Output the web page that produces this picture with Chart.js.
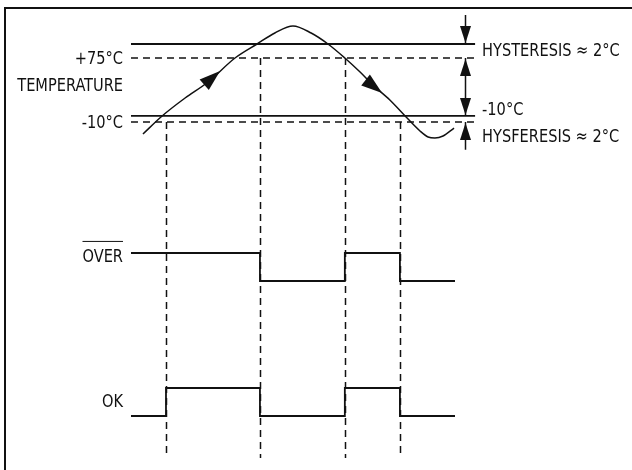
<!DOCTYPE html>
<html>
<head>
<meta charset="utf-8">
<script src="https://cdn.jsdelivr.net/npm/chart.js@4"></script>
<style>
  html, body { margin: 0; padding: 0; background: #fff; }
  canvas { display: block; }
</style>
</head>
<body>
<canvas id="timing" width="632" height="470"></canvas>
<script>
// temperature curve (time units, deg C)
const curveTime = [3.7, 9.6, 16.7, 23.8, 32.1, 38.9, 44.4, 50.0, 55.6, 60.8, 66.0, 70.7, 74.7, 79.9, 84.6, 89.2, 91.7, 93.8, 96.3, 99.7];
const curveTemp = [-25.9, -2.0, 21.9, 43.1, 75.0, 93.6, 108.2, 117.5, 108.2, 93.6, 75.0, 56.4, 39.1, 19.2, -2.0, -22.0, -29.9, -31.2, -28.6, -18.0];

// threshold lines
const tripHigh = 93.6;
const setHigh = 75;
const tripLow = -2.0;
const setLow = -10;
const lineStart = 0;
const lineEnd = 106.2;

// logic outputs
const edgeTime = [0, 10.8, 39.8, 66.0, 83.0, 100];
const overLevel = [1, 1, 0, 1, 0, 0];
const okLevel = [0, 1, 0, 1, 0, 0];

// dashed guides: time and the threshold they drop from
const guideTime = [10.8, 39.8, 66.0, 83.0];
const guideTemp = [-10, 75, 75, -10];

function pts(xs, ys) {
  return xs.map((x, i) => ({ x: x, y: ys[i] }));
}
function hline(v) {
  return [{ x: lineStart, y: v }, { x: lineEnd, y: v }];
}

const FONT = '18px "Liberation Sans Narrow", "DejaVu Sans Condensed", sans-serif';

function label(ctx, text, x, y, align) {
  ctx.save();
  ctx.translate(x, y);
  ctx.scale(0.9, 1);
  ctx.font = FONT;
  ctx.fillStyle = "#111";
  ctx.textAlign = align;
  ctx.textBaseline = "middle";
  ctx.fillText(text, 0, 0);
  ctx.restore();
}

function head(ctx, tipX, tipY, fromX, fromY, len, half) {
  const a = Math.atan2(tipY - fromY, tipX - fromX);
  ctx.beginPath();
  ctx.moveTo(tipX, tipY);
  ctx.lineTo(tipX - len * Math.cos(a) + half * Math.sin(a), tipY - len * Math.sin(a) - half * Math.cos(a));
  ctx.lineTo(tipX - len * Math.cos(a) - half * Math.sin(a), tipY - len * Math.sin(a) + half * Math.cos(a));
  ctx.closePath();
  ctx.fill();
}

// frame, guides, arrows and texts
const decor = {
  id: "decor",
  beforeDatasetsDraw(chart) {
    const ctx = chart.ctx;
    const s = chart.scales;
    ctx.save();
    ctx.strokeStyle = "#111";
    ctx.lineWidth = 1.5;
    ctx.setLineDash([7, 5]);
    const bottom = s.yOk.getPixelForValue(-1.5);
    guideTime.forEach((t, i) => {
      const x = Math.round(s.x.getPixelForValue(t)) + 0.5;
      ctx.beginPath();
      ctx.moveTo(x, s.yT.getPixelForValue(guideTemp[i]));
      ctx.lineTo(x, bottom);
      ctx.stroke();
    });
    ctx.restore();
  },
  afterDatasetsDraw(chart) {
    const ctx = chart.ctx;
    const s = chart.scales;
    ctx.save();
    // frame (top and left edges are inside the picture)
    ctx.fillStyle = "#111";
    ctx.fillRect(4, 7, 632, 2);
    ctx.fillRect(4, 7, 2, 470);

    ctx.strokeStyle = "#111";
    ctx.lineWidth = 1.5;

    // arrows on the temperature curve
    const arrows = [[22.5, 39.1, 27.5, 57.7], [71.6, 48.4, 77.5, 28.5]];
    arrows.forEach((a) => {
      head(ctx, s.x.getPixelForValue(a[2]), s.yT.getPixelForValue(a[3]),
        s.x.getPixelForValue(a[0]), s.yT.getPixelForValue(a[1]), 21, 7);
    });

    // hysteresis arrows
    const ax = Math.round(s.x.getPixelForValue(103.1)) + 0.5;
    const y = (v) => s.yT.getPixelForValue(v);
    ctx.beginPath();
    ctx.moveTo(ax, y(132)); ctx.lineTo(ax, y(tripHigh));
    ctx.moveTo(ax, y(setHigh)); ctx.lineTo(ax, y(tripLow));
    ctx.moveTo(ax, y(setLow)); ctx.lineTo(ax, y(-47));
    ctx.stroke();
    head(ctx, ax, y(tripHigh) - 1, ax, y(132), 17, 5.5);
    head(ctx, ax, y(setHigh) + 1, ax, y(tripLow), 17, 5.5);
    head(ctx, ax, y(tripLow) - 1, ax, y(setHigh), 17, 5.5);
    head(ctx, ax, y(setLow) + 1, ax, y(-47), 17, 5.5);

    // left texts
    const lx = s.x.getPixelForValue(lineStart) - 8;
    label(ctx, "+75°C", lx, y(setHigh) + 1, "right");
    label(ctx, "TEMPERATURE", lx, y(38), "right");
    label(ctx, "-10°C", lx, y(setLow) + 1, "right");
    const overY = s.yOver.getPixelForValue(0.86);
    label(ctx, "OVER", lx, overY, "right");
    ctx.save();
    ctx.font = FONT;
    const w = ctx.measureText("OVER").width * 0.9;
    ctx.restore();
    ctx.lineWidth = 1;
    ctx.beginPath();
    ctx.moveTo(lx - w, overY - 15.5);
    ctx.lineTo(lx, overY - 15.5);
    ctx.stroke();
    label(ctx, "OK", lx, s.yOk.getPixelForValue(0.5), "right");

    // right texts
    const rx = s.x.getPixelForValue(lineEnd) + 7;
    label(ctx, "HYSTERESIS \u2248 2°C", rx, y((tripHigh + setHigh) / 2), "left");
    label(ctx, "-10°C", rx, y(5.9), "left");
    label(ctx, "HYSFERESIS \u2248 2°C", rx, y(-29.9), "left");
    ctx.restore();
  },
};

const solid = { borderColor: "#111", borderWidth: 1.8, pointRadius: 0, fill: false };
const dashed = { borderColor: "#111", borderWidth: 1.5, borderDash: [7, 5], pointRadius: 0, fill: false };

new Chart(document.getElementById("timing"), {
  type: "line",
  data: {
    datasets: [
      Object.assign({ label: "Temperature", data: pts(curveTime, curveTemp), yAxisID: "yT",
        cubicInterpolationMode: "monotone" }, solid, { borderWidth: 1.5 }),
      Object.assign({ label: "Trip high", data: hline(tripHigh), yAxisID: "yT" }, solid),
      Object.assign({ label: "+75", data: hline(setHigh), yAxisID: "yT" }, dashed),
      Object.assign({ label: "Trip low", data: hline(tripLow), yAxisID: "yT" }, solid),
      Object.assign({ label: "-10", data: hline(setLow), yAxisID: "yT" }, dashed),
      Object.assign({ label: "OVER", data: pts(edgeTime, overLevel), yAxisID: "yOver", stepped: true }, solid),
      Object.assign({ label: "OK", data: pts(edgeTime, okLevel), yAxisID: "yOk", stepped: true }, solid),
    ],
  },
  options: {
    responsive: false,
    animation: false,
    layout: { padding: 0 },
    plugins: { legend: { display: false }, tooltip: { enabled: false } },
    scales: {
      x: { type: "linear", display: false, min: -40.43, max: 154.63 },
      yT: { type: "linear", display: false, min: -472.2, max: 152.03 },
      yOver: { type: "linear", display: false, min: -6.75, max: 10.036 },
      yOk: { type: "linear", display: false, min: -1.929, max: 14.857 },
    },
  },
  plugins: [decor],
});
</script>
</body>
</html>
